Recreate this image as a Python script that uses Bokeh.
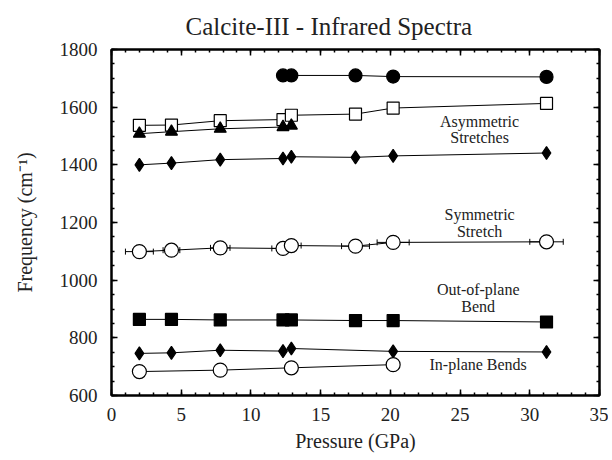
from bokeh.plotting import figure
from bokeh.models import LinearAxis, Range1d, Whisker, ColumnDataSource, SingleIntervalTicker
from bokeh.core.properties import value
from bokeh.embed import file_html
from bokeh.resources import INLINE

# ---- data (pressure in GPa, frequency in cm^-1) ----
p_all = [2.0, 4.3, 7.8, 12.3, 12.9, 17.5, 20.2, 31.2]

asym_top_p = [12.3, 12.9, 17.5, 20.2, 31.2]
asym_top_f = [1710, 1710, 1710, 1706, 1705]

asym_sq_p = p_all
asym_sq_f = [1537, 1538, 1553, 1557, 1572, 1576, 1597, 1613]

asym_tri_p = [2.0, 4.3, 7.8, 12.3, 12.9]
asym_tri_f = [1508, 1515, 1525, 1531, 1536]

asym_dia_p = p_all
asym_dia_f = [1400, 1406, 1418, 1422, 1428, 1426, 1431, 1441]

sym_p = p_all
sym_f = [1099, 1104, 1112, 1110, 1120, 1118, 1131, 1133]
sym_perr = [1.0, 0.6, 0.7, 0.8, 0.7, 1.0, 1.15, 1.2]

oop_p = p_all
oop_f = [864, 864, 862, 862, 862, 860, 860, 855]

ip_dia_p = [2.0, 4.3, 7.8, 12.3, 12.9, 20.2, 31.2]
ip_dia_f = [746, 748, 757, 754, 763, 753, 751]

ip_circ_p = [2.0, 7.8, 12.9, 20.2]
ip_circ_f = [683, 688, 696, 707]

labels = ["Asymmetric", "Stretches", "Symmetric", "Stretch", "Out-of-plane", "Bend", "In-plane Bends"]
label_x = [26.4, 26.4, 26.4, 26.4, 26.3, 26.3, 26.3]
label_y = [1551, 1496, 1228, 1170, 968, 909, 707]

FONT = "Liberation Serif"

p = figure(width=608, height=458, output_backend="svg", toolbar_location=None,
           x_range=Range1d(0, 35), y_range=Range1d(600, 1800),
           min_border_left=111, min_border_right=9, min_border_top=49, min_border_bottom=63,
           title="Calcite-III - Infrared Spectra")
p.grid.visible = False
p.outline_line_color = "black"
p.outline_line_width = 2
p.background_fill_color = "white"
p.border_fill_color = "white"

p.title.text_font = FONT
p.title.text_font_size = "25px"
p.title.text_font_style = "normal"
p.title.align = "left"
p.title.offset = 74
p.title.standoff = 20
p.title.text_color = "#222222"

def style_axis(ax, show_labels=True):
    ax.axis_line_color = "black"
    ax.axis_line_width = 2
    ax.major_tick_in = 6
    ax.major_tick_out = 0
    ax.minor_tick_in = 3
    ax.minor_tick_out = 0
    ax.major_tick_line_width = 1.5
    ax.minor_tick_line_width = 1.5
    ax.major_label_text_font = FONT
    if show_labels:
        ax.major_label_text_font_size = "19px"
        ax.major_label_text_color = "#222222"
    else:
        ax.major_label_text_font_size = "1px"
        ax.major_label_text_color = None
    ax.axis_label_text_font = FONT
    ax.axis_label_text_font_size = "20px"
    ax.axis_label_text_font_style = "normal"
    ax.axis_label_text_color = "#222222"

p.xaxis.ticker = SingleIntervalTicker(interval=5, num_minor_ticks=5)
p.yaxis.ticker = SingleIntervalTicker(interval=200, num_minor_ticks=4)
p.xaxis.axis_label = "Pressure (GPa)"
p.yaxis.axis_label = "Frequency (cm\u207b\u00b9)"
style_axis(p.xaxis[0])
style_axis(p.yaxis[0])
p.xaxis.major_label_standoff = 12
p.xaxis.axis_label_standoff = 6
p.yaxis.major_label_standoff = 14
p.yaxis.axis_label_standoff = 21

top = LinearAxis(ticker=SingleIntervalTicker(interval=5, num_minor_ticks=5))
style_axis(top, show_labels=False)
top.major_label_standoff = 0
p.add_layout(top, "above")
right = LinearAxis(ticker=SingleIntervalTicker(interval=200, num_minor_ticks=4))
style_axis(right, show_labels=False)
right.major_label_standoff = 0
p.add_layout(right, "right")

LW = 1

# symmetric stretch error bars (behind markers)
err_src = ColumnDataSource(dict(y=sym_f,
                                lo=[a - b for a, b in zip(sym_p, sym_perr)],
                                hi=[a + b for a, b in zip(sym_p, sym_perr)]))
wh = Whisker(source=err_src, base="y", lower="lo", upper="hi", dimension="width",
             line_color="black", line_width=1, level="underlay")
wh.upper_head.size = 6
wh.lower_head.size = 6
wh.upper_head.line_width = 1
wh.lower_head.line_width = 1
p.add_layout(wh)

def series(xs, ys, marker, size, filled):
    p.line(xs, ys, line_color="black", line_width=LW)
    p.scatter(xs, ys, marker=marker, size=size, line_color="black", line_width=1.2,
              fill_color="black" if filled else "white")

series(asym_top_p, asym_top_f, "circle", 13, True)
series(asym_sq_p, asym_sq_f, "square", 12, False)
series(asym_tri_p, asym_tri_f, "triangle", 12, True)
series(asym_dia_p, asym_dia_f, "diamond", 13, True)
series(sym_p, sym_f, "circle", 14, False)
series(oop_p, oop_f, "square", 12, True)
series(ip_dia_p, ip_dia_f, "diamond", 13, True)
series(ip_circ_p, ip_circ_f, "circle", 14, False)

p.text(x=label_x, y=label_y, text=labels, text_font=value(FONT), text_font_size="16px",
       text_align="center", text_baseline="middle", text_color="#222222")

open("out.html", "w").write(file_html(p, INLINE))
